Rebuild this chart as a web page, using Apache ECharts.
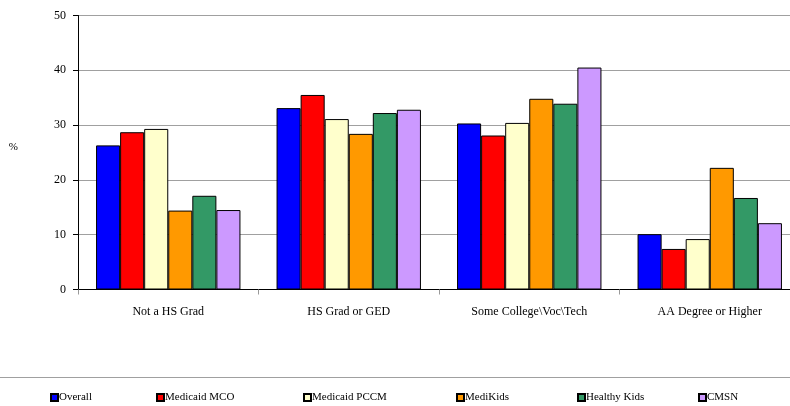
<!DOCTYPE html>
<html><head><meta charset="utf-8">
<script src="https://cdn.jsdelivr.net/npm/echarts@6/dist/echarts.min.js"></script>
<style>html,body{margin:0;padding:0;background:#fff;overflow:hidden;width:790px;height:406px}#c{width:800px;height:406px}</style>
</head><body><div id="c"></div>
<script>
const categories = ['Not a HS Grad', 'HS Grad or GED', 'Some College\\Voc\\Tech', 'AA Degree or Higher'];
const seriesNames = ['Overall', 'Medicaid MCO', 'Medicaid PCCM', 'MediKids', 'Healthy Kids', 'CMSN'];
const colors = ['#0000ff', '#ff0000', '#ffffcc', '#ff9900', '#339966', '#cc99ff'];
const overall = [26.3, 33.1, 30.3, 10.1];
const medicaidMCO = [28.7, 35.5, 28.1, 7.4];
const medicaidPCCM = [29.3, 31.1, 30.4, 9.2];
const mediKids = [14.4, 28.4, 34.8, 22.2];
const healthyKids = [17.1, 32.2, 33.9, 16.7];
const cmsn = [14.5, 32.8, 40.5, 12.1];
const yTicks = [0, 10, 20, 30, 40, 50];
const values = [overall, medicaidMCO, medicaidPCCM, mediKids, healthyKids, cmsn];

const font = '"Liberation Serif", "Times New Roman", serif';
const legendLefts = [45, 151, 298, 451, 572, 693];

const chart = echarts.init(document.getElementById('c'), null, {renderer: 'canvas'});
chart.setOption({
  animation: false,
  backgroundColor: '#fff',
  textStyle: {fontFamily: font},
  grid: {left: 78, right: 0, top: 15.5, height: 274, containLabel: false},
  legend: seriesNames.map((n, i) => ({
    data: [n], left: legendLefts[i], top: 387, itemWidth: 7, itemHeight: 7, itemGap: 2,
    icon: 'rect', textStyle: {fontFamily: font, fontSize: 11, color: '#000', padding: [0, 0, 0, -4]}
  })),
  xAxis: {
    type: 'category', data: categories,
    axisLine: {lineStyle: {color: '#000', width: 1}},
    axisTick: {show: true, length: 5, lineStyle: {color: '#999'}},
    axisLabel: {fontFamily: font, fontSize: 12, color: '#000', margin: 16}
  },
  yAxis: {
    type: 'value', min: 0, max: 50, interval: 10,
    name: '%', nameLocation: 'middle', nameGap: 60, nameRotate: 0,
    nameTextStyle: {fontFamily: font, fontSize: 11, color: '#000', verticalAlign: 'bottom'},
    axisLine: {show: true, lineStyle: {color: '#000', width: 1}},
    axisTick: {show: true, length: 5, lineStyle: {color: '#000'}},
    axisLabel: {fontFamily: font, fontSize: 12, color: '#000', margin: 12,
      formatter: v => yTicks.includes(v) ? String(v) : ''},
    splitLine: {lineStyle: {color: '#a0a0a0', width: 1}}
  },
  graphic: [{type: 'line', shape: {x1: 0, y1: 377.5, x2: 800, y2: 377.5}, style: {stroke: '#a0a0a0', lineWidth: 1}}],
  series: seriesNames.map((n, i) => ({
    name: n, type: 'bar', data: values[i],
    barGap: '0%', barCategoryGap: '20%',
    itemStyle: {color: colors[i], borderColor: '#000', borderWidth: 1}
  }))
});
</script></body></html>
